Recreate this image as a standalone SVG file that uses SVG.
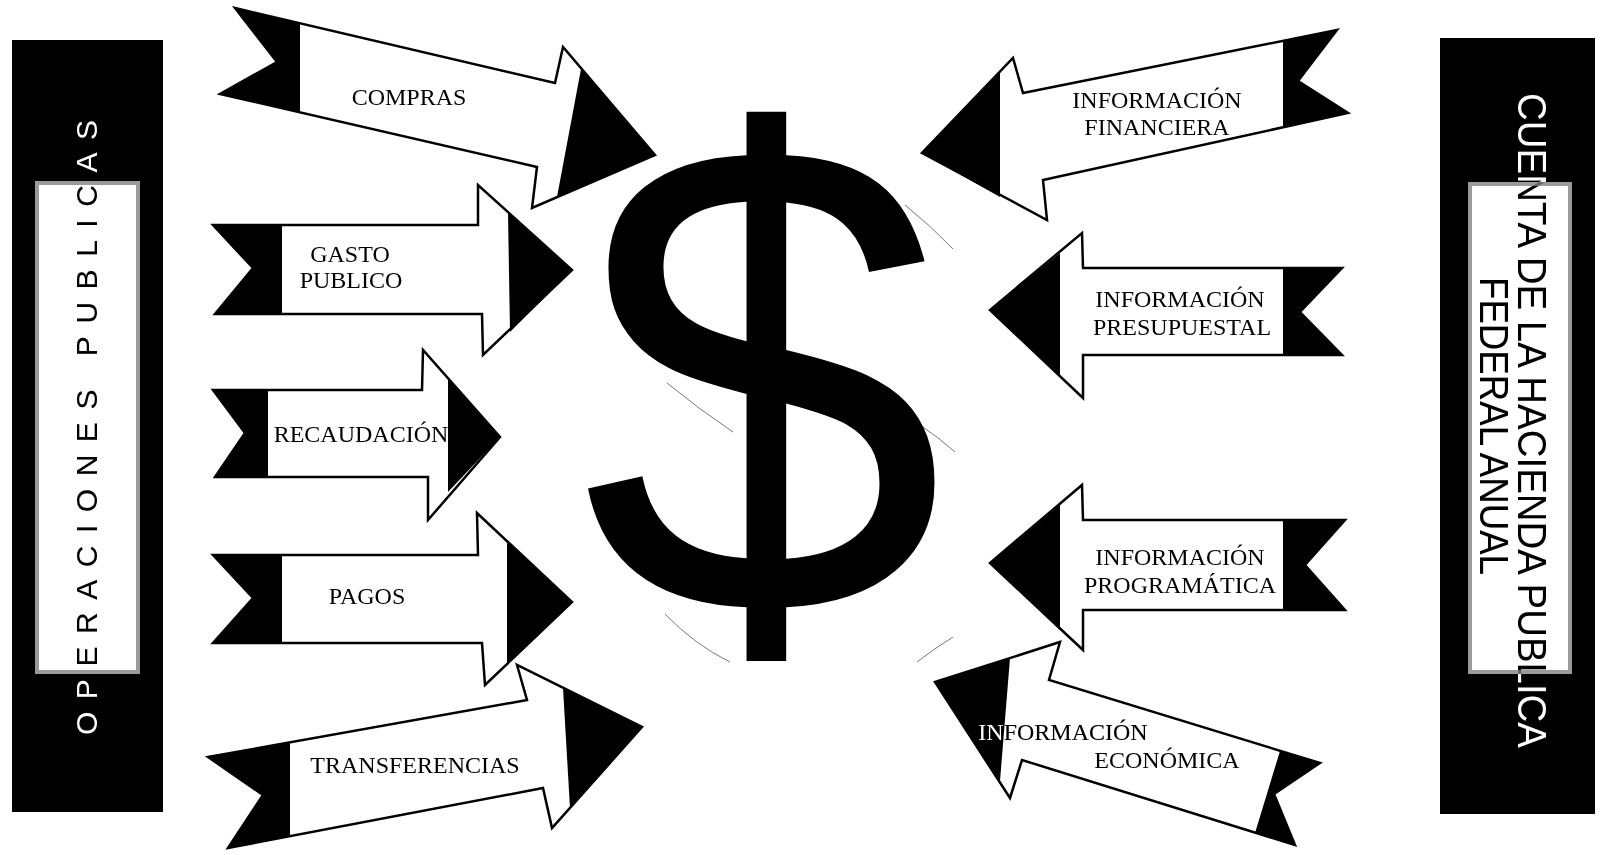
<svg xmlns="http://www.w3.org/2000/svg" width="1603" height="855" viewBox="0 0 1603 855">
<style>
.ol{fill:#fff;stroke:#000;stroke-width:2.5;stroke-linejoin:miter}
.sh{fill:#000}
.lbl{font-family:"Liberation Serif","Times New Roman",serif;font-size:24px;text-anchor:middle;fill:#000}
.side{font-family:"Liberation Sans",Arial,sans-serif;fill:#fff;mix-blend-mode:difference}
.band{fill:#fff;stroke:#9a9a9a;stroke-width:4}
.arc{fill:none;stroke:#777;stroke-width:1}
</style>
<rect width="1603" height="855" fill="#fff"/>

<g id="panel-operaciones">
<rect x="12" y="40" width="151" height="772" fill="#000"/>
<rect class="band" x="37" y="183" width="101" height="489"/>
<text class="side" font-size="30" transform="translate(97,735) rotate(-90)" textLength="615" lengthAdjust="spacing">OPERACIONES PUBLICAS</text>
</g>

<g id="panel-cuenta">
<rect x="1440" y="38" width="155" height="776" fill="#000"/>
<rect class="band" x="1470" y="184" width="100" height="488"/>
<text class="side" font-size="40" transform="translate(1518,93) rotate(90)" textLength="655" lengthAdjust="spacingAndGlyphs">CUENTA DE LA HACIENDA PUBLICA</text>
<text class="side" font-size="40" transform="translate(1480,277) rotate(90)" textLength="298" lengthAdjust="spacingAndGlyphs">FEDERAL ANUAL</text>
</g>

<g id="dollar">
<path class="arc" d="M905,205 Q930,225 953,249"/>
<path class="arc" d="M667,383 Q700,410 733,432"/>
<path class="arc" d="M920,425 Q938,437 955,452"/>
<path class="arc" d="M665,614 Q695,645 730,662"/>
<path class="arc" d="M917,662 Q935,648 953,637"/>
<text x="0" y="0" transform="translate(763,614) scale(1.039,1.077)" font-family="'Liberation Sans',Arial,sans-serif" font-size="630" text-anchor="middle" fill="#000">$</text>
</g>

<g id="arrows">
<g id="arrow-compras">
<polygon class="ol" points="235,8 555,83 563,47 655,155 532,208 537,167 220,94 277,62"/>
<polygon class="sh" points="235,8 300,23 300,112 220,94 277,62"/>
<polygon class="sh" points="581,69 655,155 557,197"/>
<text class="lbl" x="409" y="105">COMPRAS</text>
</g>
<g id="arrow-gasto">
<polygon class="ol" points="213,225 478,225 478,185 572,270 483,355 482,314 215,314 253,268"/>
<polygon class="sh" points="213,225 282,225 282,314 215,314 253,268"/>
<polygon class="sh" points="508,213 572,270 510,332"/>
<text class="lbl" x="350" y="262">GASTO</text>
<text class="lbl" x="351" y="288">PUBLICO</text>
</g>
<g id="arrow-recaudacion">
<polygon class="ol" points="213,390 422,390 423,350 500,437 428,520 428,477 215,477 245,433"/>
<polygon class="sh" points="213,390 268,390 268,477 215,477 245,433"/>
<polygon class="sh" points="448,378 500,437 448,492"/>
<text class="lbl" x="361" y="442">RECAUDACIÓN</text>
</g>
<g id="arrow-pagos">
<polygon class="ol" points="213,555 478,555 477,513 572,602 485,685 482,643 213,643 253,598"/>
<polygon class="sh" points="213,555 282,555 282,643 213,643 253,598"/>
<polygon class="sh" points="507,541 572,602 507,664"/>
<text class="lbl" x="367" y="604">PAGOS</text>
</g>
<g id="arrow-transferencias">
<polygon class="ol" points="208,757 527,700 517,665 642,727 552,828 543,788 228,848 263,795"/>
<polygon class="sh" points="208,757 290,742 290,836 228,848 263,795"/>
<polygon class="sh" points="563,688 642,727 570,808"/>
<text class="lbl" x="415" y="773">TRANSFERENCIAS</text>
</g>
<g id="arrow-financiera">
<polygon class="ol" points="1337,30 1023,93 1013,58 922,153 1047,220 1043,180 1348,113 1298,81"/>
<polygon class="sh" points="1283,41 1337,30 1298,81 1348,113 1283,127"/>
<polygon class="sh" points="922,153 1000,72 1000,197"/>
<text class="lbl" x="1157" y="108">INFORMACIÓN</text>
<text class="lbl" x="1157" y="135">FINANCIERA</text>
</g>
<g id="arrow-presupuestal">
<polygon class="ol" points="1342,268 1083,268 1082,233 990,310 1083,398 1083,355 1342,355 1300,312"/>
<polygon class="sh" points="1283,268 1342,268 1300,312 1342,355 1283,355"/>
<polygon class="sh" points="990,310 1060,253 1060,376"/>
<text class="lbl" x="1180" y="307">INFORMACIÓN</text>
<text class="lbl" x="1182" y="335">PRESUPUESTAL</text>
</g>
<g id="arrow-programatica">
<polygon class="ol" points="1345,520 1083,520 1082,485 990,563 1083,650 1083,610 1345,610 1305,565"/>
<polygon class="sh" points="1283,520 1345,520 1305,565 1345,610 1283,610"/>
<polygon class="sh" points="990,563 1060,505 1060,630"/>
<text class="lbl" x="1180" y="565">INFORMACIÓN</text>
<text class="lbl" x="1180" y="593">PROGRAMÁTICA</text>
</g>
<g id="arrow-economica">
<polygon class="ol" points="1320,763 1049,680 1060,642 935,682 1010,798 1022,760 1295,845 1274,794"/>
<polygon class="sh" points="1280,751 1320,763 1274,794 1295,845 1255,833"/>
<polygon class="sh" points="935,682 1010,658 1000,781"/>
<text class="lbl" x="1063" y="740" style="fill:#fff;mix-blend-mode:difference">INFORMACIÓN</text>
<text class="lbl" x="1167" y="768">ECONÓMICA</text>
</g>
</g>
</svg>
